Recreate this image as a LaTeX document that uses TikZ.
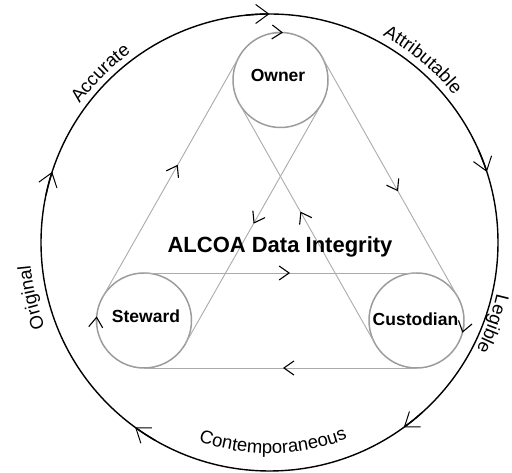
\documentclass[tikz,border=0pt]{standalone}
\usepackage{fontspec}
\setmainfont{Liberation Sans}
\usetikzlibrary{arrows.meta,decorations.markings,decorations.text,calc}
\definecolor{wheelgray}{HTML}{9C9C9C}
\definecolor{beltgray}{HTML}{ABABAB}
\newcommand\lblfont{\fontsize{18.5pt}{20pt}\selectfont}
\begin{document}
\begin{tikzpicture}[x=1pt,y=1pt,
  bigbarb/.tip={Straight Barb[length=13pt,width=19pt,line width=1pt,color=black]},
  smallbarb/.tip={Straight Barb[length=10pt,width=14pt,line width=1.1pt,color=black]},
  ringline/.style={draw=black,line width=1.4pt},
  wheel/.style={circle,draw=wheelgray,line width=1.5pt,minimum size=95pt,inner sep=0pt},
  wheelarc/.style={draw=wheelgray,line width=1.5pt,-{smallbarb}},
  ringarc/.style={draw=black,line width=1.4pt,-{bigbarb}},
  belt/.style={draw=beltgray,line width=0.9pt,postaction={decorate},
    decoration={markings,mark=at position #1 with {\arrow{smallbarb}}}},
  wlabel/.style={font=\bfseries\fontsize{17.5pt}{20pt}\selectfont,anchor=base,inner sep=0pt},
  title/.style={font=\bfseries\fontsize{22pt}{24pt}\selectfont,anchor=base,inner sep=0pt},
  arctext/.style={decorate,decoration={text along path,text align=center,text={|\lblfont|#1}}}
]
\useasboundingbox (0,0) rectangle (512,473);

% outer ring
\coordinate (C) at (269.5,230.5);
\draw[ringline] (C) circle[radius=228.5pt];
\foreach \a/\b in {96/90,24/18,-48/-54,-120/-126,168/162}
  \draw[ringarc] (C) ++(\a:228.5pt) arc[start angle=\a,end angle=\b,radius=228.5pt];

% wheels
\node[wheel] (o) at (280.5,393) {};
\node[wheel] (s) at (144,152.5) {};
\node[wheel] (c) at (416.5,152.5) {};

\draw[wheelarc] (o.center) ++(97:47.5pt) arc[start angle=97,end angle=87,radius=47.5pt];
\draw[wheelarc] (s.center) ++(185:47.5pt) arc[start angle=185,end angle=175,radius=47.5pt];
\draw[wheelarc] (c.center) ++(-5:47.5pt) arc[start angle=-5,end angle=-15,radius=47.5pt];

% belts
\draw[belt=0.536] ($(s)!47.5pt!90:(c)$) -- ($(c)!47.5pt!-90:(s)$);
\draw[belt=0.49]  ($(c)!47.5pt!90:(s)$) -- ($(s)!47.5pt!-90:(c)$);
\draw[belt=0.55]  ($(s)!47.5pt!90:(o)$) -- ($(o)!47.5pt!-90:(s)$);
\draw[belt=0.56]  ($(o)!47.5pt!90:(c)$) -- ($(c)!47.5pt!-90:(o)$);
\draw[belt=0.55]  ($(c)!47.5pt!90:(o)$) -- ($(o)!47.5pt!-90:(c)$);
\draw[belt=0.5]   ($(o)!47.5pt!90:(s)$) -- ($(s)!47.5pt!-90:(o)$);

% labels
\node[wlabel] (ol) at (278,391) {Owner};
\node[wlabel] (sl) at (146,150) {Steward};
\node[wlabel] (cl) at (415.5,147) {Custodian};
\node[title] (tl) at (280,220) {ALCOA Data Integrity};

% ring texts
\path[arctext=Attributable] (C) ++(80:236pt) arc[start angle=80,end angle=20,radius=236pt];
\path[arctext=Legible] (C) ++(10:233pt) arc[start angle=10,end angle=-50,radius=233pt];
\path[arctext=Contemporaneous] (C) ++(-129:211pt) arc[start angle=-129,end angle=-49,radius=211pt];
\path[arctext=Original] (C) ++(223:240pt) arc[start angle=223,end angle=163,radius=240pt];
\path[arctext=Accurate] (C) ++(165:235pt) arc[start angle=165,end angle=105,radius=235pt];
\end{tikzpicture}
\end{document}
